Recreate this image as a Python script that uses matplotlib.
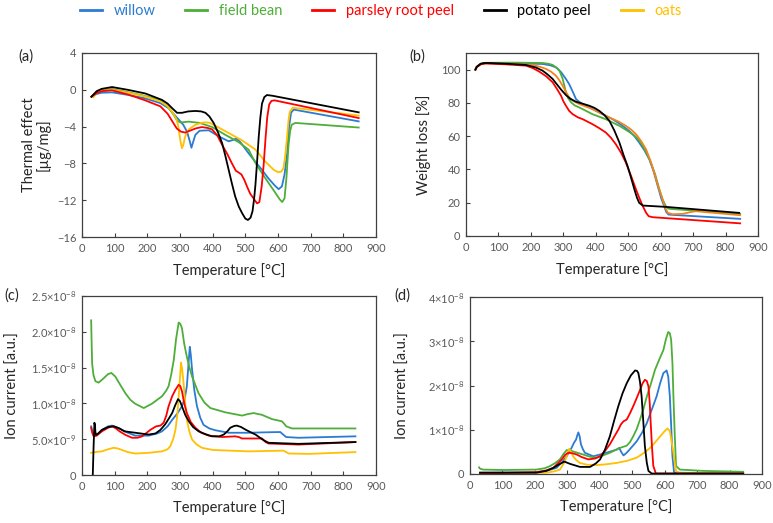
import matplotlib
matplotlib.use("Agg")
from matplotlib import pyplot as plt
from matplotlib.lines import Line2D

plt.rcParams['font.family'] = ['Lato', 'DejaVu Sans']
plt.rcParams['mathtext.fontset'] = 'custom'
plt.rcParams['mathtext.rm'] = 'Lato'

names = ["willow", "field bean", "parsley root peel", "potato peel", "oats"]
colors = ["#2B7BD3", "#4DAE38", "#FF0000", "#000000", "#FFC000"]
colors_b = ["#2B7BD3", "#4DAE38", "#FF0000", "#000000", "#F4831F"]

# (a) thermal effect, ug/mg
willow_a = [(29, -0.75), (45, -0.45), (60, -0.32), (92, -0.28), (140, -0.55), (190, -0.9), (240, -1.45),
            (265, -2.0), (280, -2.6), (295, -3.2), (310, -3.8), (322, -4.6), (330, -5.6), (335, -6.3),
            (340, -5.7), (347, -4.9), (360, -4.45), (388, -4.4), (418, -5.05), (449, -5.6), (462, -5.45),
            (472, -5.3), (485, -5.7), (510, -6.9), (530, -7.8), (551, -8.7), (570, -9.6), (590, -10.4),
            (602, -10.8), (612, -10.5), (620, -9.2), (628, -6.9), (634, -4.0), (640, -2.5), (648, -2.15),
            (847, -3.43)]
field_bean_a = [(29, -0.75), (45, -0.2), (60, -0.05), (92, 0.09), (140, -0.25), (190, -0.64), (240, -1.14),
                (265, -1.9), (280, -2.7), (292, -3.4), (302, -3.55), (315, -3.5), (327, -3.46), (360, -3.6),
                (398, -4.04), (439, -4.9), (480, -5.7), (510, -6.5), (531, -7.96), (561, -9.6), (592, -11.2),
                (605, -11.9), (613, -12.2), (620, -11.8), (626, -9.5), (632, -6.1), (637, -4.5), (642, -3.8),
                (653, -3.6), (847, -4.1)]
parsley_a = [(29, -0.75), (45, -0.35), (60, -0.15), (92, -0.06), (140, -0.5), (190, -1.1), (240, -1.8),
             (262, -2.6), (276, -3.4), (290, -4.2), (303, -4.55), (316, -4.65), (330, -4.45), (348, -4.2),
             (367, -4.05), (385, -4.15), (398, -4.3), (415, -5.0), (429, -6.0), (445, -7.0), (459, -8.0),
             (471, -8.8), (480, -9.0), (488, -9.2), (497, -9.8), (505, -10.5), (515, -11.3), (525, -11.8),
             (536, -12.35), (543, -12.2), (550, -10.5), (556, -8.2), (562, -5.2), (567, -3.0), (573, -1.6),
             (580, -1.2), (590, -1.15), (847, -3.07)]
potato_a = [(29, -0.75), (45, -0.15), (60, 0.1), (92, 0.3), (140, 0.0), (194, -0.4), (245, -1.1), (262, -1.5),
            (276, -2.0), (291, -2.5), (306, -2.5), (325, -2.35), (347, -2.3), (365, -2.35), (378, -2.5),
            (390, -2.9), (403, -3.6), (416, -4.6), (429, -5.8), (439, -7.2), (449, -8.7), (459, -10.2),
            (469, -11.6), (480, -12.7), (490, -13.4), (500, -14.0), (508, -14.15), (516, -13.9), (522, -13.2),
            (527, -11.8), (531, -10.3), (536, -7.8), (541, -5.1), (546, -3.0), (551, -1.5), (558, -0.8),
            (566, -0.57), (582, -0.64), (847, -2.45)]
oats_a = [(35, -0.8), (45, -0.3), (60, -0.1), (92, 0.0), (140, -0.3), (190, -0.7), (240, -1.25), (262, -1.8),
          (276, -2.4), (288, -3.1), (294, -3.8), (298, -4.8), (302, -5.7), (306, -6.35), (310, -6.0),
          (315, -5.2), (320, -4.7), (327, -4.3), (347, -3.8), (365, -3.6), (378, -3.54), (392, -3.6),
          (408, -3.9), (449, -4.7), (490, -5.5), (531, -6.5), (561, -7.8), (587, -8.7), (600, -8.95),
          (610, -8.9), (617, -8.5), (622, -7.2), (628, -5.05), (632, -3.4), (636, -2.4), (645, -1.95),
          (847, -2.8)]

# (b) weight loss, %
willow_b = [(29, 100), (33, 101.5), (45, 103.2), (60, 103.9), (100, 103.8), (200, 103.6), (236, 103.4),
            (260, 102.6), (277, 101.4), (293, 98.5), (308, 94.4), (318, 91.3), (326, 88), (333, 85), (339, 82.3),
            (350, 80.5), (360, 79.3), (385, 76.8), (411, 74.2), (452, 70.2), (480, 66.6), (503, 63.2),
            (520, 59.8), (534, 56.1), (550, 51.5), (565, 46.1), (578, 39), (591, 30), (602, 22.5), (611, 17.9),
            (617, 14.5), (624, 12.9), (637, 12.7), (845, 10.3)]
field_bean_b = [(29, 100), (33, 101.8), (45, 103.6), (60, 104.1), (150, 104.2), (236, 104), (255, 103.5),
                (267, 102.8), (280, 101), (288, 99.4), (294, 96.5), (298, 94.4), (303, 90.5), (308, 86.3),
                (315, 82.8), (324, 80.3), (335, 78.5), (349, 77.3), (390, 73.2), (431, 70.2), (473, 66.2),
                (514, 61.2), (530, 58.4), (545, 54.1), (558, 49.5), (570, 44), (583, 37), (596, 28), (606, 22),
                (616, 17.9), (622, 16.6), (629, 16.3), (845, 13.3)]
parsley_b = [(29, 100), (33, 101.5), (45, 103.2), (60, 103.7), (120, 103.2), (185, 102.4), (205, 101),
             (226, 98.8), (247, 96), (267, 92.4), (280, 88.5), (293, 84.3), (300, 81), (308, 78.3), (318, 75.2),
             (329, 73.2), (345, 71.3), (360, 70.2), (390, 67.2), (410, 64.9), (431, 62.2), (447, 59), (462, 55.1),
             (478, 50), (493, 44), (508, 36.5), (524, 28), (535, 22.5), (545, 17.9), (555, 14), (563, 11.9),
             (575, 11.3), (845, 7.6)]
potato_b = [(29, 100), (33, 101.7), (45, 103.5), (56, 104), (72, 104), (130, 103.5), (185, 102.8), (215, 101.3),
            (236, 99.4), (252, 97), (267, 94.4), (280, 91.2), (293, 88), (308, 84.7), (322, 82.4), (339, 80.7),
            (360, 79.5), (380, 78.3), (396, 77), (411, 75.2), (427, 72.6), (442, 69.2), (457, 63.5), (473, 56.1),
            (485, 49), (498, 42), (508, 35.5), (519, 28), (527, 23), (534, 19.9), (545, 18.3), (616, 17.5),
            (842, 13.9)]
oats_b = [(29, 100), (33, 101.5), (45, 103.3), (60, 103.9), (150, 103.3), (205, 102.8), (230, 101.6),
          (247, 100.4), (262, 98.8), (277, 96.4), (288, 93.5), (298, 90.3), (308, 86.6), (318, 83.3), (332, 81),
          (349, 79.3), (390, 76.3), (442, 71.2), (470, 68.8), (493, 66.2), (510, 63.8), (524, 61.2), (540, 57),
          (555, 52.1), (568, 45.5), (580, 38), (593, 29.5), (606, 21.9), (615, 16.5), (622, 13.9), (637, 13.1),
          (668, 13.3), (690, 14.3), (709, 14.9), (845, 12.5)]

# (c) ion current, units of 1e-9
willow_c = [(28, 6.8), (32, 6.0), (36, 5.5), (45, 5.6), (61, 6.3), (80, 6.8), (92, 6.9), (105, 6.7), (122, 6.3),
            (140, 5.9), (163, 5.5), (204, 5.5), (230, 5.8), (245, 6.1), (262, 6.8), (276, 7.7), (292, 8.6),
            (306, 9.6), (315, 10.8), (321, 12.4), (326, 15.5), (330, 17.9), (333, 16.8), (337, 14.7),
            (344, 11.8), (352, 9.6), (362, 8.0), (372, 7.0), (390, 6.5), (408, 6.25), (449, 5.9), (510, 5.9),
            (571, 5.97), (607, 6.0), (617, 5.6), (625, 5.3), (663, 5.2), (837, 5.4)]
field_bean_c = [(28, 21.6), (29.5, 18.5), (31, 15.6), (35, 14.0), (41, 13.1), (51, 12.9), (66, 13.5),
                (80, 14.1), (90, 14.25), (102, 13.75), (117, 12.6), (133, 11.4), (148, 10.5), (163, 9.95),
                (189, 9.35), (214, 9.95), (230, 10.5), (245, 11.0), (258, 11.8), (265, 12.4), (273, 14.0),
                (281, 16.1), (288, 19.0), (296, 21.3), (301, 21.1), (306, 20.5), (313, 18.3), (321, 16.5),
                (329, 15.0), (337, 13.75), (357, 11.4), (375, 10.1), (393, 9.35), (439, 8.75), (490, 8.3),
                (507, 8.5), (525, 8.65), (551, 8.4), (582, 7.8), (612, 7.5), (620, 7.1), (625, 6.8), (643, 6.5),
                (837, 6.5)]
parsley_c = [(28, 6.6), (32, 5.8), (36, 5.4), (45, 5.5), (61, 6.1), (80, 6.6), (92, 6.8), (104, 6.5), (115, 6.1),
             (133, 5.6), (153, 5.2), (170, 5.2), (184, 5.4), (198, 5.9), (209, 6.3), (227, 6.8), (240, 6.9),
             (250, 7.3), (258, 8.3), (265, 9.6), (276, 11.0), (286, 11.9), (296, 12.6), (301, 12.4), (306, 11.7),
             (313, 10.0), (321, 8.65), (333, 7.4), (347, 6.6), (365, 5.9), (388, 5.5), (429, 5.3), (469, 5.4),
             (480, 5.3), (490, 5.1), (551, 5.1), (562, 4.6), (571, 4.4), (663, 4.25), (837, 4.6)]
potato_c = [(33, 0.0), (35.5, 4.0), (38, 7.3), (39.5, 7.0), (41, 6.0), (43, 5.6), (50, 5.8), (61, 6.3), (80, 6.7),
            (97, 6.8), (115, 6.5), (130, 6.1), (163, 5.9), (204, 5.65), (225, 5.8), (240, 6.3), (255, 7.1),
            (266, 7.9), (276, 8.65), (285, 9.7), (294, 10.6), (300, 10.3), (306, 9.6), (316, 8.4), (327, 7.5),
            (340, 6.7), (357, 6.1), (378, 5.7), (398, 5.4), (420, 5.4), (434, 5.65), (445, 6.1), (454, 6.6),
            (466, 6.85), (474, 6.9), (487, 6.7), (500, 6.35), (515, 6.0), (531, 5.65), (545, 5.2), (556, 4.86),
            (571, 4.5), (663, 4.35), (837, 4.6)]
oats_c = [(28, 3.1), (40, 3.2), (61, 3.3), (80, 3.6), (97, 3.8), (110, 3.7), (122, 3.5), (140, 3.2), (163, 3.0),
          (204, 3.1), (245, 3.3), (262, 3.6), (270, 4.0), (279, 5.0), (286, 6.3), (292, 8.5), (296, 11.0),
          (300, 13.6), (303, 15.7), (306, 15.0), (311, 12.8), (316, 10.0), (321, 7.7), (329, 6.0), (337, 4.95),
          (350, 4.3), (367, 3.8), (400, 3.5), (510, 3.3), (617, 3.4), (625, 3.2), (633, 3.0), (694, 2.95),
          (837, 3.2)]

# (d) ion current, units of 1e-8
willow_d = [(31, 0.03), (205, 0.04), (240, 0.08), (267, 0.14), (285, 0.28), (298, 0.4), (313, 0.59), (320, 0.7),
            (327, 0.78), (331, 0.88), (334, 0.94), (338, 0.85), (342, 0.67), (348, 0.56), (354, 0.48),
            (380, 0.4), (411, 0.46), (452, 0.55), (460, 0.59), (466, 0.5), (473, 0.42), (480, 0.46), (488, 0.52),
            (514, 0.74), (530, 0.93), (545, 1.15), (560, 1.45), (575, 1.75), (586, 2.05), (596, 2.28),
            (606, 2.34), (611, 2.2), (616, 1.75), (620, 1.1), (624, 0.4), (629, 0.03), (842, 0.015)]
field_bean_d = [(28, 0.15), (31, 0.12), (40, 0.1), (103, 0.09), (205, 0.1), (230, 0.13), (247, 0.18),
                (263, 0.25), (277, 0.33), (288, 0.45), (298, 0.54), (313, 0.52), (349, 0.44), (370, 0.39),
                (390, 0.37), (410, 0.42), (431, 0.48), (462, 0.59), (483, 0.64), (493, 0.72), (503, 0.85),
                (514, 1.02), (524, 1.23), (535, 1.48), (545, 1.75), (558, 2.05), (570, 2.35), (584, 2.6),
                (596, 2.8), (604, 3.05), (611, 3.21), (616, 3.18), (620, 3.03), (624, 2.5), (627, 1.75),
                (631, 0.9), (635, 0.18), (647, 0.1), (719, 0.07), (842, 0.05)]
parsley_d = [(31, 0.01), (205, 0.04), (235, 0.08), (257, 0.14), (272, 0.25), (283, 0.33), (293, 0.43),
             (303, 0.48), (315, 0.47), (329, 0.44), (345, 0.38), (365, 0.33), (385, 0.35), (401, 0.4),
             (416, 0.52), (431, 0.67), (445, 0.85), (457, 1.0), (465, 1.12), (473, 1.19), (483, 1.23),
             (493, 1.37), (503, 1.53), (514, 1.72), (524, 1.9), (532, 2.05), (539, 2.13), (545, 2.1),
             (550, 1.98), (554, 1.6), (557, 1.15), (561, 0.6), (565, 0.18), (573, 0.01), (842, 0.01)]
potato_d = [(31, 0.03), (205, 0.03), (235, 0.07), (257, 0.14), (275, 0.22), (291, 0.28), (308, 0.23),
            (339, 0.16), (370, 0.16), (388, 0.24), (401, 0.33), (416, 0.55), (431, 0.85), (444, 1.2),
            (457, 1.53), (470, 1.82), (483, 2.05), (496, 2.23), (509, 2.34), (515, 2.33), (519, 2.28),
            (524, 2.08), (529, 1.75), (534, 1.2), (539, 0.63), (545, 0.25), (550, 0.07), (560, 0.01),
            (842, 0.01)]
oats_d = [(31, 0.01), (236, 0.03), (260, 0.06), (277, 0.1), (290, 0.25), (298, 0.4), (302, 0.5), (306, 0.57),
          (311, 0.5), (318, 0.4), (328, 0.31), (339, 0.25), (360, 0.21), (390, 0.2), (420, 0.22), (452, 0.25),
          (485, 0.3), (514, 0.37), (535, 0.47), (555, 0.59), (570, 0.71), (586, 0.85), (600, 0.97),
          (609, 1.03), (616, 0.97), (621, 0.75), (627, 0.48), (631, 0.25), (635, 0.07), (645, 0.02),
          (842, 0.01)]

xticks = [0, 100, 200, 300, 400, 500, 600, 700, 800, 900]
c_yticks = [0, 5e-9, 1e-8, 1.5e-8, 2e-8, 2.5e-8]
c_ylabels = ["0", r"$\mathregular{5.0{\times}10^{-9}}$", r"$\mathregular{1.0{\times}10^{-8}}$",
             r"$\mathregular{1.5{\times}10^{-8}}$", r"$\mathregular{2.0{\times}10^{-8}}$",
             r"$\mathregular{2.5{\times}10^{-8}}$"]
d_yticks = [0, 1e-8, 2e-8, 3e-8, 4e-8]
d_ylabels = ["0", r"$\mathregular{1{\times}10^{-8}}$", r"$\mathregular{2{\times}10^{-8}}$",
             r"$\mathregular{3{\times}10^{-8}}$", r"$\mathregular{4{\times}10^{-8}}$"]

fig = plt.figure(figsize=(7.73, 5.23), dpi=100)
W, H = 773, 523


def make_ax(x0, y0, x1, y1):
    # pixel box -> axes
    return fig.add_axes([x0 / W, 1 - y1 / H, (x1 - x0) / W, (y1 - y0) / H])


ax_a = make_ax(82, 53, 376, 237)
ax_b = make_ax(466, 53, 758, 236)
ax_c = make_ax(82, 296, 376, 475)
ax_d = make_ax(470, 297, 762, 474)


def draw(ax, series, cols, scale=1.0):
    lines = []
    for s, c in zip(series, cols):
        t = [p[0] for p in s]
        v = [p[1] * scale for p in s]
        (ln,) = ax.plot(t, v, color=c, lw=1.3, solid_joinstyle='round')
        lines.append(ln)
    return lines


order = [0, 1, 4, 2, 3]  # draw order: willow, field bean, oats, parsley, potato
sa = [willow_a, field_bean_a, parsley_a, potato_a, oats_a]
sb = [willow_b, field_bean_b, parsley_b, potato_b, oats_b]
sc = [willow_c, field_bean_c, parsley_c, potato_c, oats_c]
sd = [willow_d, field_bean_d, parsley_d, potato_d, oats_d]

draw(ax_a, [sa[i] for i in order], [colors[i] for i in order])
draw(ax_b, [sb[i] for i in order], [colors_b[i] for i in order])
draw(ax_c, [sc[i] for i in order], [colors[i] for i in order], 1e-9)
draw(ax_d, [sd[i] for i in order], [colors[i] for i in order], 1e-8)

ax_a.set_ylim(-16, 4)
ax_a.set_yticks([-16, -12, -8, -4, 0, 4])
ax_a.set_yticklabels(["\u221216", "\u221212", "\u22128", "\u22124", "0", "4"])
ax_b.set_ylim(0, 110)
ax_b.set_yticks([0, 20, 40, 60, 80, 100])
ax_c.set_ylim(0, 2.5e-8)
ax_c.set_yticks(c_yticks)
ax_c.set_yticklabels(c_ylabels)
ax_d.set_ylim(0, 4e-8)
ax_d.set_yticks(d_yticks)
ax_d.set_yticklabels(d_ylabels)

ylabels = ["Thermal effect\n[\u00b5g/mg]", "Weight loss [%]", "Ion current [a.u.]", "Ion current [a.u.]"]
ylab_x = [-0.156, -0.147, -0.235, -0.23]
letters = ["(a)", "(b)", "(c)", "(d)"]
letter_pos = [(26, 57), (417, 57), (12, 296), (402, 296)]

for ax, yl, lx, let, lp in zip([ax_a, ax_b, ax_c, ax_d], ylabels, ylab_x, letters, letter_pos):
    ax.set_xlim(0, 900)
    ax.set_xticks(xticks)
    ax.tick_params(direction='in', length=3, width=0.8, colors='#404040', labelcolor='#595959',
                   labelsize=8, pad=4)
    for sp in ax.spines.values():
        sp.set_color('#404040')
        sp.set_linewidth(0.9)
    ax.set_xlabel("Temperature [\u00b0C]", fontsize=10.5, color='#262626')
    ax.xaxis.set_label_coords(0.5, -0.14)
    ax.set_ylabel(yl, fontsize=10.5, color='#262626', va='center', linespacing=1.0)
    ax.yaxis.set_label_coords(lx, 0.5)
    fig.text(lp[0] / W, 1 - lp[1] / H, let, fontsize=10.5, ha='center', va='center', color='#262626')

handles = [Line2D([], [], color=c, lw=2) for c in colors]
leg = fig.legend(handles, names, loc='center left', bbox_to_anchor=(80 / W, 1 - 11 / H), ncol=5,
                 frameon=False, fontsize=10.5, handlelength=1.5, handletextpad=0.8, columnspacing=2.05,
                 borderpad=0, borderaxespad=0)
for txt, c in zip(leg.get_texts(), colors):
    txt.set_color(c)

fig.savefig("out.png", dpi=100)
